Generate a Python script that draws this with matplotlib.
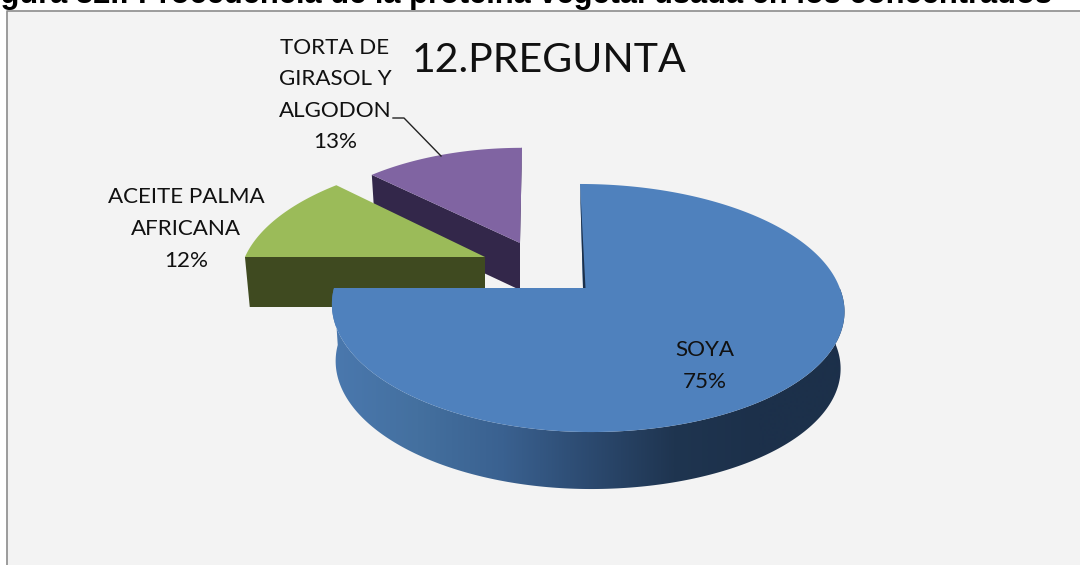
import matplotlib
matplotlib.use('Agg')
import matplotlib.pyplot as plt
import matplotlib.colors as mcolors
from matplotlib.patches import Polygon
import numpy as np

# Chart values
categories = ['SOYA', 'ACEITE PALMA\nAFRICANA', 'TORTA DE\nGIRASOL Y\nALGODON']
values = [75, 12, 13]
title = '12.PREGUNTA'
heading = 'Figura 32.: Procedencia de la proteína vegetal usada en los concentrados'

top_colours = ['#4f81bd', '#9bbb59', '#8064a2']
side_colours = ['#2a4669', '#3f4a20', '#33274a']

font = ['Lato', 'DejaVu Sans']

# Perspective of the pie: A = vertical squash, B = horizontal radius, K = tilt
A = 120.8
B_LEFT = 249.0
B_RIGHT = 256.7
K = 0.1613
NEAR_SHIFT = 8.0


def rim(theta, apex, scale=1.0, bscale=1.0, shift=0.0, skew=0.0):
    # theta in radians, clockwise from the top of the pie
    x = np.sin(theta)
    y = np.cos(theta)
    d = 1 + K * y
    b = np.where(x < 0, B_LEFT, B_RIGHT)
    sx = apex[0] + scale * bscale * b * x / d - skew * np.clip(y, 0, 1)
    sx = sx + NEAR_SHIFT * np.clip(-y, 0, 1)
    return sx, apex[1] - scale * A * y / d + shift


fig = plt.figure(figsize=(10.8, 5.65), dpi=100)
ax = fig.add_axes([0, 0, 1, 1])
ax.set_xlim(0, 1080)
ax.set_ylim(565, 0)
ax.axis('off')

# chart area
ax.fill([7, 1080, 1080, 7], [11, 11, 565, 565], color='#f3f3f3', zorder=0)
ax.plot([7, 7, 1080], [565, 11, 11], color='#8c8c8c', lw=1.2, zorder=1)

ax.text(-27, 3.5, heading, family=['Liberation Sans', 'DejaVu Sans'], weight='bold',
        fontsize=22.25, color='black', ha='left', va='baseline', zorder=1)

ang = np.cumsum([0] + values) / sum(values) * 2 * np.pi
# apex, scale, depth, skew of each slice
layout = [((583, 288), 1.0, 57, 3.0), ((485, 257), 0.964, 50, -13.0), ((520, 243), 0.915, 47, -2.0)]

# back slices first: purple, then green
for i in [2, 1]:
    apex, scale, depth, skew = layout[i]
    t = np.linspace(ang[i], ang[i + 1], 60)
    x, y = rim(t, apex, scale, skew=skew)

    x0, y0 = rim(ang[i], apex, scale, skew=skew)
    x1, y1 = rim(ang[i], apex, scale, 0.98, depth, skew=skew)
    ax.fill([apex[0], x0, x1, apex[0]], [apex[1], y0, y1, apex[1] + depth],
            color=side_colours[i], lw=0, zorder=5 - i)
    if i == 2:
        # right hand cut of the purple slice
        x2, y2 = rim(ang[i + 1], apex, scale, skew=skew)
        ax.fill([apex[0], x2, x2 - 0.5, apex[0] - 2], [apex[1], y2, y2, apex[1] + depth],
                color=side_colours[i], lw=0, zorder=3)
    ax.fill(np.r_[apex[0], x], np.r_[apex[1], y], color=top_colours[i], lw=0,
            zorder=6 - i)

# blue rim, gradient from left to right
apex, scale, depth, skew = layout[0]
cmap = mcolors.LinearSegmentedColormap.from_list(
    'rim', ['#4a78ae', '#44709f', '#3a6190', '#2c4a70', '#1f3550', '#1c304a', '#1c304a'])
t = np.linspace(np.radians(90), ang[1], 200)
xt, yt = rim(t, apex, skew=skew)
xb, yb = rim(t, apex, 1.0, 0.985, depth, skew=skew)
band = Polygon(np.c_[np.r_[xt, xb[::-1]], np.r_[yt, yb[::-1]]], transform=ax.transData,
               fc='none', ec='none')
ax.add_patch(band)
grad = np.linspace(0, 1, 512).reshape(1, -1)
im = ax.imshow(grad, cmap=cmap, extent=[xt.min(), xt.max(), 565, 0], aspect='auto', zorder=7)
im.set_clip_path(band)
ax.set_xlim(0, 1080)
ax.set_ylim(565, 0)

# blue top face
t = np.linspace(ang[0], ang[1], 300)
x, y = rim(t, apex, skew=skew)
ax.fill(np.r_[apex[0], x], np.r_[apex[1], y], color=top_colours[0], lw=0, zorder=8)

# thin dark cut on the left of the blue slice
x0, y0 = rim(ang[0], apex, skew=skew)
ax.fill([x0, apex[0], apex[0] + 2.5], [y0, apex[1], apex[1]], color='#1c304a', lw=0, zorder=9)

# labels
label_pos = [(705, 366), (186, 229), (335, 95)]
for cat, val, pos in zip(categories, values, label_pos):
    ax.text(pos[0], pos[1], '%s\n%d%%' % (cat, val), family=font, fontsize=16.1,
            ha='center', va='center', linespacing=1.72, color='#111111', zorder=10)

ax.text(549, 60, title, family=font, fontsize=29.5, ha='center', va='center',
        color='#111111', zorder=10)

# leader line
ax.plot([393, 404, 441], [118, 118, 156], color='#222222', lw=1.0, zorder=10)

fig.savefig('out.png', dpi=100)
